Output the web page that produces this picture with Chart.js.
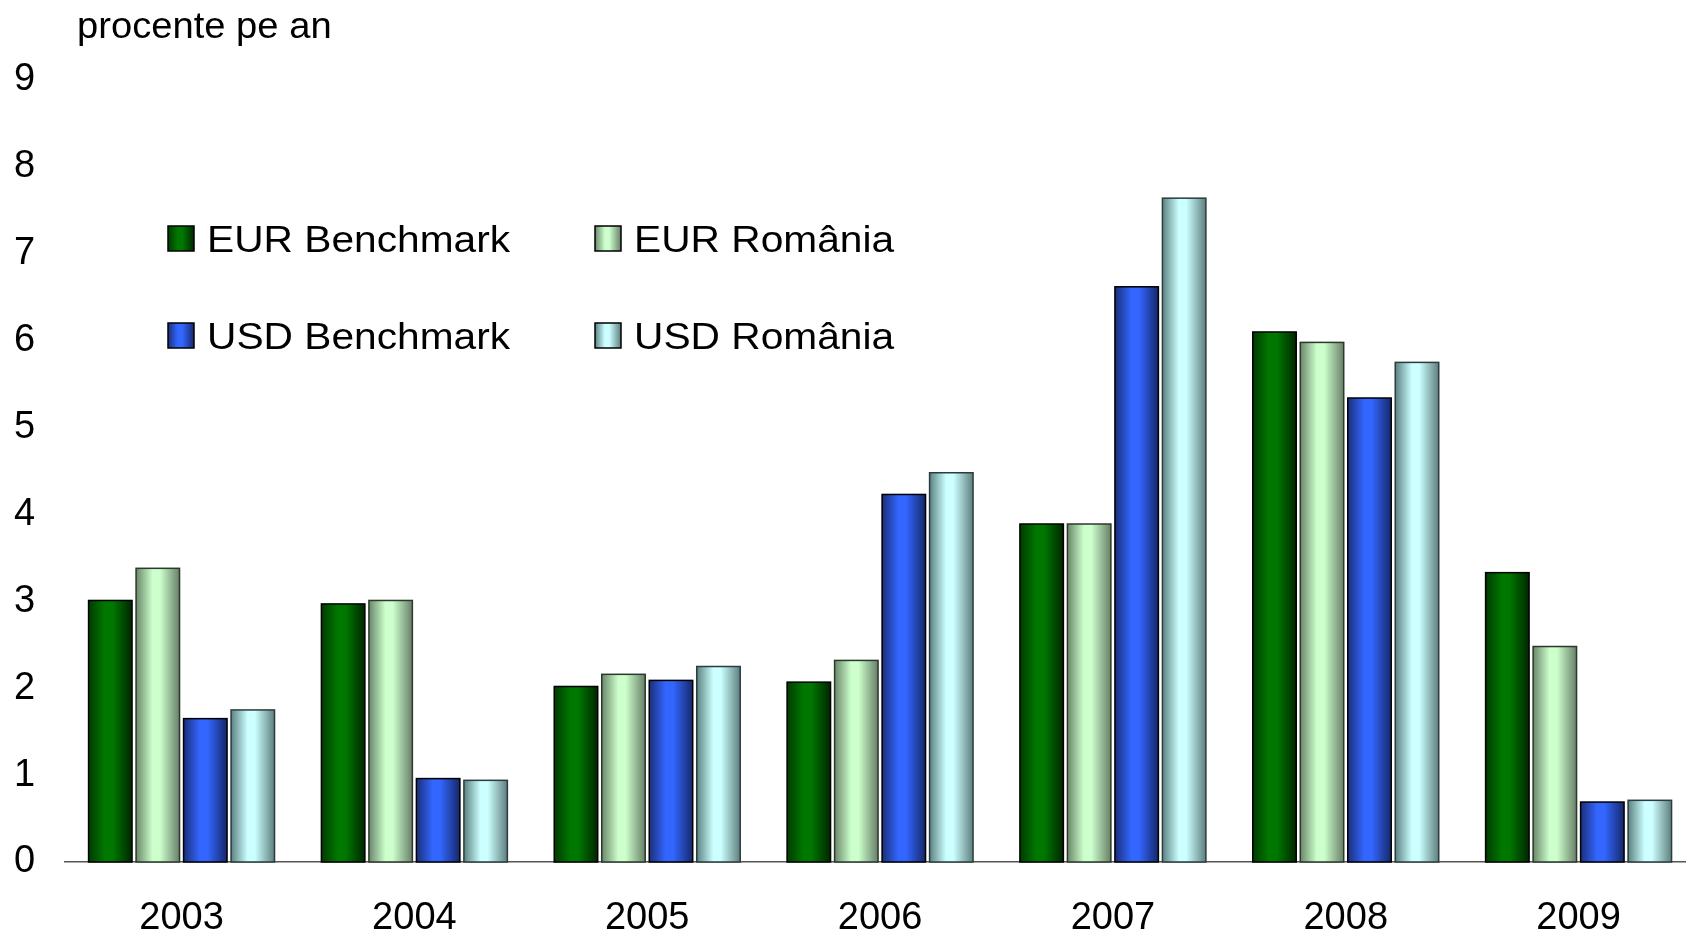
<!DOCTYPE html>
<html>
<head>
<meta charset="utf-8">
<script src="https://cdn.jsdelivr.net/npm/chart.js@4"></script>
<style>
  html, body { margin: 0; background: #fff; overflow: hidden; }
</style>
</head>
<body>
<!-- the plot runs a few pixels past the right edge of the window -->
<canvas id="chart" width="1695" height="934"></canvas>
<script>
// data
const years = ['2003', '2004', '2005', '2006', '2007', '2008', '2009'];
const eurBenchmark = [3.01, 2.97, 2.02, 2.07, 3.89, 6.10, 3.33];
const eurRomania   = [3.38, 3.01, 2.16, 2.32, 3.89, 5.98, 2.48];
const usdBenchmark = [1.65, 0.96, 2.09, 4.23, 6.62, 5.34, 0.69];
const usdRomania   = [1.75, 0.94, 2.25, 4.48, 7.64, 5.75, 0.71];
const seriesNames = ['EUR Benchmark', 'EUR România', 'USD Benchmark', 'USD România'];
const yTicks = [0, 1, 2, 3, 4, 5, 6, 7, 8, 9];

const FONT = "'Liberation Sans', Arial, sans-serif";

// cylinder-like shading: [left edge, light centre, right edge], plus border
const shades = [
  { stops: ['#003c00', '#007800', '#007800', '#002600'], border: '#000000' },
  { stops: ['#6a876a', '#ccffcc', '#ccffcc', '#687f68'], border: '#2b382b' },
  { stops: ['#1b2f7a', '#3366ff', '#3366ff', '#15286a'], border: '#000000' },
  { stops: ['#5c8181', '#ccffff', '#ccffff', '#5e7e7e'], border: '#2c3b3b' }
];

function barGradient(ctx, x0, x1, s) {
  const g = ctx.createLinearGradient(x0, 0, x1, 0);
  g.addColorStop(0, s.stops[0]);
  g.addColorStop(0.38, s.stops[1]);
  g.addColorStop(0.55, s.stops[2]);
  g.addColorStop(1, s.stops[3]);
  return g;
}

const shadePlugin = {
  id: 'shade',
  afterDatasetDraw(chart, args) {
    const ctx = chart.ctx;
    const s = shades[args.index];
    ctx.save();
    args.meta.data.forEach(el => {
      const p = el.getProps(['x', 'y', 'base', 'width'], true);
      const x0 = p.x - p.width / 2;
      ctx.fillStyle = barGradient(ctx, x0, x0 + p.width, s);
      ctx.fillRect(x0, p.y, p.width, p.base - p.y);
      ctx.lineWidth = 1.5;
      ctx.strokeStyle = s.border;
      ctx.strokeRect(x0, p.y, p.width, p.base - p.y);
    });
    ctx.restore();
  }
};

// text in the source is a little wider than the font, so stretch it
function wideText(ctx, text, x, y, stretch) {
  ctx.save();
  ctx.translate(x, y);
  ctx.scale(stretch, 1);
  ctx.fillText(text, 0, 0);
  ctx.restore();
}

// legend in two columns inside the plot, plus the unit label on top
const legendPlugin = {
  id: 'legendBoxes',
  afterDraw(chart) {
    const ctx = chart.ctx;
    const cols = [168, 595];
    const rows = [238, 335];
    ctx.save();
    ctx.font = '37px ' + FONT;
    ctx.textBaseline = 'alphabetic';
    chart.data.datasets.forEach((ds, i) => {
      const x = cols[i % 2];
      const y = rows[Math.floor(i / 2)];
      ctx.fillStyle = barGradient(ctx, x, x + 26, shades[i]);
      ctx.fillRect(x, y - 12, 26, 25);
      ctx.lineWidth = 1.5;
      ctx.strokeStyle = '#000';
      ctx.strokeRect(x, y - 12, 26, 25);
      ctx.fillStyle = '#000';
      wideText(ctx, ds.label, x + 39, y + 14, 1.1);
    });
    ctx.font = '36px ' + FONT;
    wideText(ctx, 'procente pe an', 77, 38, 1.06);
    ctx.restore();
  }
};

const seriesData = [eurBenchmark, eurRomania, usdBenchmark, usdRomania];

new Chart(document.getElementById('chart'), {
  type: 'bar',
  data: {
    labels: years,
    datasets: seriesData.map((d, i) => ({
      label: seriesNames[i],
      data: d,
      backgroundColor: shades[i].stops[1],
      borderWidth: 0,
      categoryPercentage: 0.816,
      barPercentage: 0.915
    }))
  },
  options: {
    responsive: false,
    animation: false,
    // tick padding is counted twice in the axis size, hence the negative edges
    layout: { padding: { left: -16, right: 0, top: 80, bottom: -42 } },
    plugins: {
      legend: { display: false },
      title: { display: false },
      tooltip: { enabled: false }
    },
    scales: {
      x: {
        grid: { display: false, drawTicks: false },
        border: { display: true, color: '#555', width: 1.5 },
        ticks: {
          color: '#000',
          padding: 38,
          font: { family: FONT, size: 38, lineHeight: 1 }
        }
      },
      y: {
        min: 0,
        max: 9,
        afterBuildTicks: axis => { axis.ticks = yTicks.map(v => ({ value: v })); },
        grid: { display: false, drawTicks: false },
        border: { display: false },
        ticks: {
          color: '#000',
          padding: 30,
          font: { family: FONT, size: 38, lineHeight: 1 }
        }
      }
    }
  },
  plugins: [shadePlugin, legendPlugin]
});
</script>
</body>
</html>
